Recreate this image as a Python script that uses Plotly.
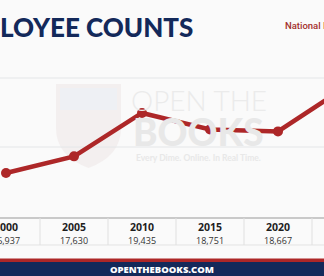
import plotly.graph_objects as go

# ---- data ----
years = ["2000", "2005", "2010", "2015", "2020", "2024"]
counts = [16937, 17630, 19435, 18751, 18667, 20520]
count_labels = ["16,937", "17,630", "19,435", "18,751", "18,667", "20,520"]
title_text = "EMPLOYEE COUNTS"
subtitle_text = "National Institutes of Health"
footer_text = "OPENTHEBOOKS.COM"

W, H = 324, 276
RED = "#ad2728"
NAVY = "#13295a"
NARROW = "Liberation Sans Narrow, Open Sans, sans-serif"

def py(p):  # pixel y -> paper y
    return 1 - p / H

def px(p):
    return p / W

xi = list(range(len(years)))

fig = go.Figure()
fig.add_trace(go.Scatter(
    x=xi, y=counts, mode="lines+markers",
    line=dict(color=RED, width=4.5),
    marker=dict(color=RED, size=10),
    hoverinfo="skip", showlegend=False,
))

unit_px = 68.0
x0 = -6 / unit_px
x1 = x0 + W / unit_px
per_px = 41.6
y0 = 16937 - (H - 173) * per_px
y1 = y0 + H * per_px

shapes = []
sx = px
shapes.append(dict(type="path", xref="paper", yref="paper",
    path=f"M {sx(56)},{py(84)} L {sx(121)},{py(84)} L {sx(121)},{py(128)} "
         f"Q {sx(121)},{py(156)} {sx(88.5)},{py(168)} Q {sx(56)},{py(156)} {sx(56)},{py(128)} Z",
    fillcolor="#f3efef", line=dict(width=0), layer="below"))
shapes.append(dict(type="path", xref="paper", yref="paper",
    path=f"M {sx(60)},{py(88)} L {sx(117)},{py(88)} L {sx(117)},{py(110)} L {sx(60)},{py(110)} Z",
    fillcolor="#eef0f4", line=dict(width=0), layer="below"))
# gridlines
for gy in (78, 147):
    shapes.append(dict(type="line", xref="paper", yref="paper", x0=0, x1=1,
                       y0=py(gy), y1=py(gy), line=dict(color="#e4e6e8", width=1), layer="below"))
# table borders
shapes.append(dict(type="line", xref="paper", yref="paper", x0=0, x1=1,
                   y0=py(218), y1=py(218), line=dict(color="#c9c9c9", width=2)))
shapes.append(dict(type="line", xref="paper", yref="paper", x0=0, x1=1,
                   y0=py(245), y1=py(245), line=dict(color="#e3e3e3", width=1)))
for i in range(len(years) - 1):
    shapes.append(dict(type="line", xref="x", yref="paper", x0=i + 0.5, x1=i + 0.5,
                       y0=py(245), y1=py(218), line=dict(color="#e0e0e0", width=1)))
# footer
shapes.append(dict(type="rect", xref="paper", yref="paper", x0=0, x1=1,
                   y0=py(262), y1=py(258.5), fillcolor=RED, line=dict(width=0)))
shapes.append(dict(type="rect", xref="paper", yref="paper", x0=0, x1=1,
                   y0=0, y1=py(262), fillcolor=NAVY, line=dict(width=0)))

ann = []
ann.append(dict(text=title_text, xref="paper", yref="paper", x=px(195), y=py(27),
                xanchor="right", yanchor="middle", showarrow=False,
                font=dict(family="Lato", size=26, color=NAVY, weight=900)))
ann.append(dict(text=subtitle_text, xref="paper", yref="paper", x=px(283), y=py(26),
                xanchor="left", yanchor="middle", showarrow=False,
                font=dict(family="Roboto", size=9.5, color="#a3302c", weight=500)))
# watermark texts
ann.append(dict(text="OPEN THE", xref="paper", yref="paper", x=px(199), y=py(100),
                xanchor="center", yanchor="middle", showarrow=False,
                font=dict(family="Lato", size=28, color="#ebebeb", weight=300)))
ann.append(dict(text="BOOKS", xref="paper", yref="paper", x=px(198), y=py(131),
                xanchor="center", yanchor="middle", showarrow=False,
                font=dict(family="Lato", size=37, color="#e8e8e8", weight=900)))
ann.append(dict(text="Every Dime. Online. In Real Time.", xref="paper", yref="paper",
                x=px(199), y=py(158), xanchor="center", yanchor="middle", showarrow=False,
                font=dict(family="Lato", size=8.5, color="#e8e8e8", weight=700)))
# table
for i, (yr, lab) in enumerate(zip(years, count_labels)):
    ann.append(dict(text=yr, xref="x", yref="paper", x=i, y=py(227),
                    xanchor="center", yanchor="middle", showarrow=False,
                    font=dict(family=NARROW, size=10.5, color="#1e1e1e", weight=700)))
    ann.append(dict(text=lab, xref="x", yref="paper", x=i, y=py(240),
                    xanchor="center", yanchor="middle", showarrow=False,
                    font=dict(family=NARROW, size=9, color="#333333")))
ann.append(dict(text=footer_text, xref="paper", yref="paper", x=0.5, y=py(269),
                xanchor="center", yanchor="middle", showarrow=False,
                font=dict(family="Open Sans", size=9.5, color="white", weight=800)))

fig.update_layout(
    width=W, height=H, margin=dict(l=0, r=0, t=0, b=0),
    paper_bgcolor="#fafafa", plot_bgcolor="rgba(0,0,0,0)",
    xaxis=dict(range=[x0, x1], visible=False, fixedrange=True),
    yaxis=dict(range=[y0, y1], visible=False, fixedrange=True),
    shapes=shapes, annotations=ann,
)

fig.write_html("out.html")
